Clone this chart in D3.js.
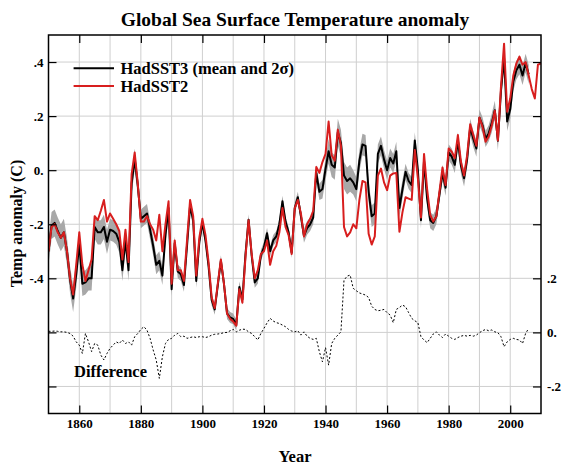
<!DOCTYPE html>
<html><head><meta charset="utf-8">
<script src="https://cdn.jsdelivr.net/npm/d3@7"></script>
<style>
html,body{margin:0;padding:0;background:#fff;}
svg text{font-family:"Liberation Serif","Times New Roman",serif;font-weight:bold;fill:#000;}
</style></head><body>
<svg id="chart" width="576" height="471"></svg>
<script>
// ---------------- data ----------------
const startYear = 1850;
// HadSST2 annual anomaly, 1850-2010
const hadsst2 = [
 -0.30,-0.21,-0.20,-0.23,-0.25,-0.23,-0.30,-0.40,-0.46,-0.35,
 -0.23,-0.35,-0.41,-0.37,-0.33,-0.17,-0.185,-0.15,-0.11,-0.19,
 -0.16,-0.18,-0.20,-0.225,-0.33,-0.22,-0.34,-0.015,0.065,-0.05,
 -0.19,-0.19,-0.17,-0.20,-0.22,-0.26,-0.165,-0.30,-0.20,-0.115,
 -0.42,-0.26,-0.37,-0.37,-0.41,-0.26,-0.11,-0.17,-0.39,-0.25,
 -0.18,-0.24,-0.34,-0.47,-0.51,-0.42,-0.33,-0.42,-0.53,-0.55,
 -0.56,-0.575,-0.44,-0.49,-0.32,-0.185,-0.31,-0.40,-0.37,-0.31,
 -0.30,-0.26,-0.35,-0.30,-0.28,-0.23,-0.14,-0.21,-0.24,-0.31,
 -0.14,-0.11,-0.16,-0.245,-0.20,-0.18,-0.15,0.012,-0.01,0.03,
 0.06,0.18,0.055,0.035,0.15,0.09,-0.21,-0.245,-0.23,-0.20,
 -0.215,-0.11,-0.04,-0.045,-0.235,-0.275,-0.245,-0.02,0.006,-0.045,
 -0.074,-0.02,-0.012,-0.01,-0.228,-0.155,-0.10,-0.105,-0.11,0.075,
 -0.03,-0.175,0.06,-0.07,-0.165,-0.19,-0.17,-0.08,0.01,-0.055,
 0.08,0.068,0.045,0.13,0.03,-0.02,0.055,0.17,0.13,0.09,
 0.195,0.16,0.105,0.125,0.165,0.22,0.11,0.31,0.468,0.216,
 0.265,0.35,0.395,0.42,0.39,0.40,0.35,0.30,0.265,0.39,
 0.395
];
// HadSST3 annual mean, 1850-2006
const hadsst3 = [
 -0.30,-0.205,-0.195,-0.225,-0.25,-0.23,-0.30,-0.405,-0.475,-0.385,
 -0.27,-0.42,-0.415,-0.40,-0.40,-0.21,-0.23,-0.23,-0.21,-0.265,
 -0.22,-0.225,-0.235,-0.265,-0.37,-0.26,-0.37,-0.05,0.04,-0.055,
 -0.18,-0.17,-0.16,-0.22,-0.28,-0.35,-0.335,-0.39,-0.24,-0.14,
 -0.44,-0.27,-0.375,-0.385,-0.425,-0.28,-0.13,-0.185,-0.41,-0.265,
 -0.195,-0.26,-0.355,-0.48,-0.515,-0.425,-0.335,-0.42,-0.53,-0.545,
 -0.55,-0.573,-0.432,-0.478,-0.31,-0.183,-0.315,-0.415,-0.40,-0.315,
 -0.285,-0.233,-0.30,-0.26,-0.245,-0.20,-0.115,-0.19,-0.23,-0.305,
 -0.14,-0.10,-0.17,-0.243,-0.214,-0.20,-0.175,-0.01,-0.08,-0.07,
 0.005,0.07,0.02,0.01,0.14,0.10,-0.02,-0.04,-0.03,-0.045,
 -0.07,0.035,0.095,0.09,-0.08,-0.17,-0.16,0.06,0.09,0.04,
 0.0,0.045,0.025,0.07,-0.14,-0.07,-0.006,-0.04,-0.055,0.11,
 0.0,-0.185,0.035,-0.105,-0.185,-0.195,-0.17,-0.09,-0.01,-0.065,
 0.066,0.05,0.02,0.11,0.016,-0.03,0.04,0.16,0.116,0.08,
 0.194,0.166,0.116,0.136,0.174,0.222,0.109,0.294,0.415,0.18,
 0.225,0.328,0.37,0.39,0.35,0.396,0.355
];
// HadSST3 2-sigma half-width, 1850-2006
const hadsst3Unc = [
 0.05,0.05,0.05,0.05,0.05,0.05,0.05,0.05,0.05,0.05,
 0.045,0.045,0.045,0.045,0.045,0.045,0.045,0.045,0.045,0.045,
 0.04,0.04,0.04,0.04,0.04,0.04,0.04,0.04,0.04,0.04,
 0.035,0.035,0.035,0.035,0.035,0.035,0.035,0.035,0.03,0.03,
 0.025,0.025,0.025,0.025,0.025,0.025,0.025,0.025,0.025,0.025,
 0.02,0.02,0.02,0.02,0.02,0.02,0.02,0.02,0.02,0.02,
 0.02,0.02,0.02,0.02,0.02,0.02,0.02,0.02,0.02,0.02,
 0.02,0.02,0.02,0.02,0.02,0.02,0.02,0.02,0.02,0.02,
 0.02,0.02,0.025,0.025,0.025,0.025,0.025,0.03,0.03,0.035,
 0.04,0.045,0.045,0.045,0.05,0.05,0.05,0.05,0.05,0.045,
 0.045,0.04,0.04,0.04,0.04,0.04,0.04,0.035,0.035,0.035,
 0.035,0.035,0.035,0.035,0.035,0.035,0.03,0.03,0.03,0.03,
 0.03,0.03,0.03,0.03,0.03,0.03,0.03,0.03,0.03,0.03,
 0.03,0.03,0.03,0.03,0.03,0.03,0.03,0.03,0.03,0.03,
 0.03,0.03,0.03,0.03,0.035,0.035,0.035,0.035,0.035,0.035,
 0.035,0.035,0.035,0.035,0.035,0.035,0.035
];
// Difference HadSST3 - HadSST2 (right axis), 1850-2006
const difference = [
 0.004,0.004,0.005,0.004,0.002,0.002,0.0,-0.004,-0.014,-0.035,
 -0.047,-0.078,-0.004,-0.035,-0.071,-0.041,-0.047,-0.084,-0.102,-0.078,
 -0.059,-0.047,-0.035,-0.041,-0.028,-0.041,-0.035,-0.047,-0.016,-0.004,
 0.011,0.021,0.008,-0.022,-0.065,-0.102,-0.17,-0.09,-0.041,-0.026,
 -0.022,-0.01,-0.004,-0.016,-0.014,-0.022,-0.019,-0.016,-0.019,-0.016,
 -0.016,-0.019,-0.016,-0.01,-0.007,-0.006,-0.004,-0.001,0.0,0.006,
 0.011,0.002,0.008,0.012,0.011,0.002,-0.004,-0.016,-0.028,-0.004,
 0.015,0.035,0.052,0.042,0.036,0.033,0.027,0.021,0.011,0.005,
 0.002,0.006,-0.01,0.002,-0.014,-0.022,-0.026,-0.022,-0.072,-0.109,
 -0.056,-0.121,-0.041,-0.022,-0.01,0.002,0.193,0.208,0.212,0.163,
 0.154,0.146,0.142,0.138,0.129,0.097,0.085,0.08,0.082,0.085,
 0.073,0.064,0.036,0.085,0.092,0.101,0.095,0.073,0.052,0.043,
 0.036,-0.016,-0.028,-0.038,-0.022,-0.006,0.002,-0.01,-0.019,-0.006,
 -0.014,-0.022,-0.026,-0.019,-0.014,-0.011,-0.014,-0.011,-0.014,-0.01,
 -0.001,0.006,0.011,0.006,0.009,0.002,-0.001,-0.016,-0.053,-0.035,
 -0.026,-0.022,-0.026,-0.028,-0.041,-0.004,0.015
];
const xTickValues = [1860,1880,1900,1920,1940,1960,1980,2000];
const xGridValues = [1860,1870,1880,1890,1900,1910,1920,1930,1940,1950,1960,1970,1980,1990,2000];
const leftTickValues = [0.4,0.2,0,-0.2,-0.4,-0.6,-0.8];
const leftTickLabels = [".4",".2","0.","-.2","-.4","",""];
const rightTickValues = [1.0,0.8,0.6,0.4,0.2,0,-0.2];
const rightTickLabels = ["","","","",".2","0.","-.2"];
const seriesNames = ["HadSST3 (mean and 2\u03c3)","HadSST2"];

// ---------------- layout ----------------
const W = 576, H = 471;
const L = 48.5, R = 541, T = 35, B = 413.5;
const svg = d3.select("#chart");

const x = d3.scaleLinear().domain([1850, 2010]).range([L, R]);
const y = d3.scaleLinear().domain([-0.9, 0.5]).range([B, T]);
const yR = d3.scaleLinear().domain([-0.3, 1.1]).range([B, T]);

const s2 = hadsst2.map((v,i)=>({yr:startYear+i, v}));
const s3 = hadsst3.map((v,i)=>({yr:startYear+i, v, u:hadsst3Unc[i]}));
const sd = difference.map((v,i)=>({yr:startYear+i, v}));

svg.append("defs").append("clipPath").attr("id","clip")
  .append("rect").attr("x",L).attr("y",T).attr("width",R-L).attr("height",B-T);

// grid
const grid = svg.append("g").attr("stroke","#cfcfcf").attr("stroke-width",1);
grid.selectAll("line.v").data(xGridValues).join("line")
  .attr("x1",d=>x(d)).attr("x2",d=>x(d)).attr("y1",T).attr("y2",B);
grid.selectAll("line.h").data(leftTickValues).join("line")
  .attr("x1",L).attr("x2",R).attr("y1",d=>y(d)).attr("y2",d=>y(d));

const plot = svg.append("g").attr("clip-path","url(#clip)");

// uncertainty band
plot.append("path").datum(s3)
  .attr("fill","#a8a8a8")
  .attr("d", d3.area().x(d=>x(d.yr)).y0(d=>y(d.v-d.u)).y1(d=>y(d.v+d.u)));

// HadSST3
plot.append("path").datum(s3)
  .attr("fill","none").attr("stroke","#000").attr("stroke-width",2).attr("stroke-linejoin","round")
  .attr("d", d3.line().x(d=>x(d.yr)).y(d=>y(d.v)));

// HadSST2
plot.append("path").datum(s2)
  .attr("fill","none").attr("stroke","#d81e1e").attr("stroke-width",2).attr("stroke-linejoin","round")
  .attr("d", d3.line().x(d=>x(d.yr)).y(d=>y(d.v)));

// difference
plot.append("path").datum(sd)
  .attr("fill","none").attr("stroke","#000").attr("stroke-width",1).attr("stroke-dasharray","2,2")
  .attr("d", d3.line().x(d=>x(d.yr)).y(d=>yR(d.v)));

// axes
function styleAxis(g){
  g.select(".domain").remove();
  g.selectAll(".tick line").attr("stroke","#000").attr("stroke-width",1.2);
  g.selectAll("text").attr("font-size","13px").attr("fill","#000")
    .attr("font-family","'Liberation Serif','Times New Roman',serif").attr("font-weight","bold");
}
svg.append("g").attr("transform",`translate(${L},0)`)
  .call(d3.axisLeft(y).tickValues(leftTickValues).tickFormat((d,i)=>leftTickLabels[i]).tickSize(-8).tickPadding(5))
  .call(styleAxis);
svg.append("g").attr("transform",`translate(${R},0)`)
  .call(d3.axisRight(yR).tickValues(rightTickValues).tickFormat((d,i)=>rightTickLabels[i]).tickSize(-8).tickPadding(6))
  .call(styleAxis);
svg.append("g").attr("transform",`translate(0,${B})`)
  .call(d3.axisBottom(x).tickValues(xTickValues).tickFormat(d3.format("d")).tickSize(-8).tickPadding(5))
  .call(styleAxis);
svg.append("g").attr("transform",`translate(0,${T})`)
  .call(d3.axisTop(x).tickValues(xTickValues).tickFormat("").tickSize(-8))
  .call(styleAxis);

// frame
svg.append("rect").attr("x",L).attr("y",T).attr("width",R-L).attr("height",B-T)
  .attr("fill","none").attr("stroke","#000").attr("stroke-width",1.5);

// title & labels
svg.append("text").attr("x",295).attr("y",26).attr("text-anchor","middle")
  .attr("font-size","19.5px").text("Global Sea Surface Temperature anomaly");
svg.append("text").attr("transform","translate(21.5,223.5) rotate(-90)").attr("text-anchor","middle")
  .attr("font-size","16px").text("Temp anomaly (C)");
svg.append("text").attr("x",295).attr("y",461.5).attr("text-anchor","middle")
  .attr("font-size","16.5px").text("Year");
svg.append("text").attr("x",74).attr("y",377).attr("font-size","16.5px").text("Difference");

// legend
const leg = svg.append("g");
const legColors = ["#000","#d81e1e"];
const legY = [68.3, 86];
seriesNames.forEach((name,i)=>{
  leg.append("line").attr("x1",73.6).attr("x2",114).attr("y1",legY[i]).attr("y2",legY[i])
    .attr("stroke",legColors[i]).attr("stroke-width",2);
  leg.append("text").attr("x",120.5).attr("y",legY[i]+5.7).attr("font-size","16.5px").text(name);
});
</script>
</body></html>
